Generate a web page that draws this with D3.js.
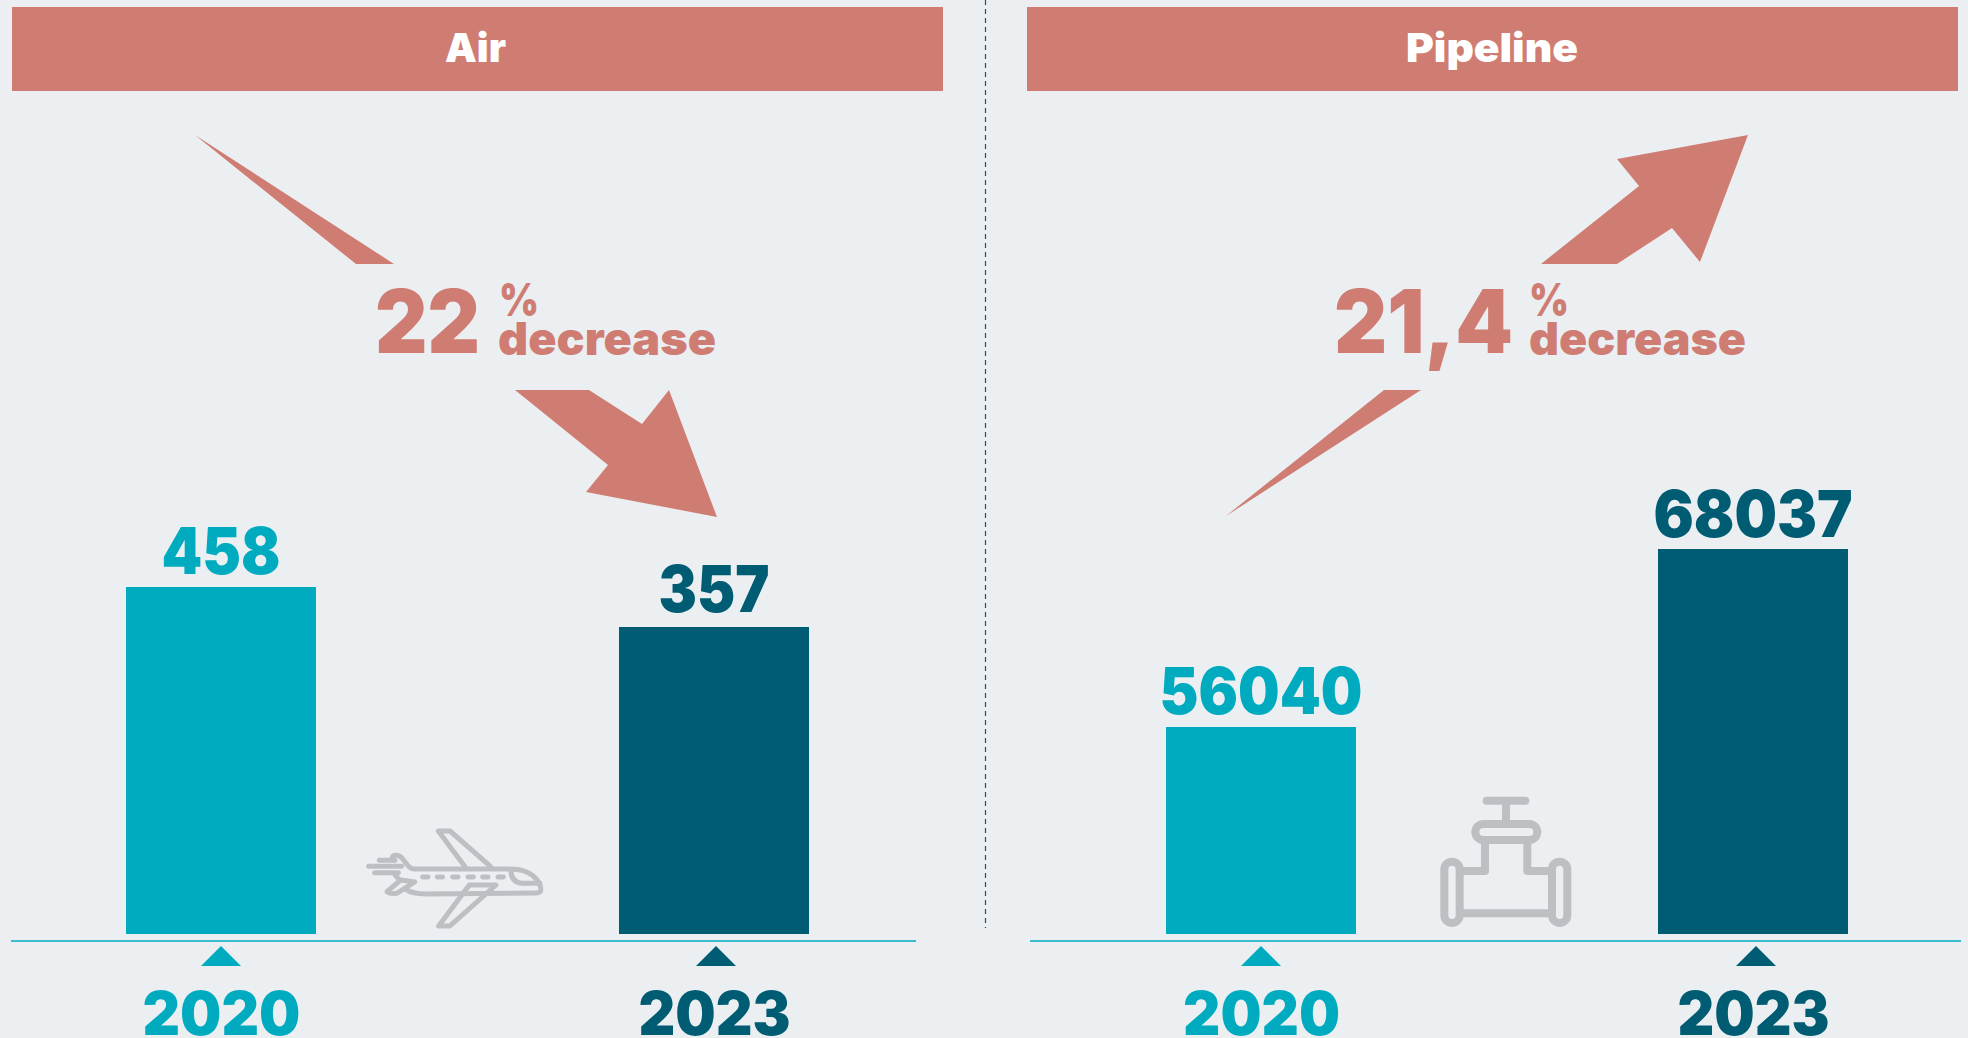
<!DOCTYPE html>
<html><head><meta charset="utf-8">
<script src="https://cdn.jsdelivr.net/npm/d3@7"></script>
<style>
html,body{margin:0;padding:0;background:#ebeff2;overflow:hidden}
svg{display:block}
text{font-family:Inter,"Noto Sans",sans-serif;font-weight:900}
</style></head><body><div id="c"></div>
<script>
// ---- data ----
const years = ["2020","2023"];
const panelNames = ["Air","Pipeline"];
const airValues = [458,357];
const pipelineValues = [56040,68037];
// the picture's bars do not start at zero: value at which each panel's bars meet the baseline
const airBaseValue = -418;
const pipelineBaseValue = 42089;
const changeNumbers = ["22","21,4"];
const changeWord = "decrease";

// ---- layout ----
const W=1968,H=1038,baseY=934,barW=190;
const SALMON="#cf7d73",TEAL="#00abc0",DARK="#005c73",GREY="#bdbfc3";
const colour=d3.scaleOrdinal(years,[TEAL,DARK]);
const svg=d3.select("#c").append("svg").attr("width",W).attr("height",H);
svg.append("rect").attr("width",W).attr("height",H).attr("fill","#ebeff2");
svg.append("line").attr("x1",985.5).attr("x2",985.5).attr("y1",0).attr("y2",928)
  .attr("stroke",DARK).attr("stroke-width",1.2).attr("stroke-dasharray","5 4");

const panels=[
 {name:panelNames[0],values:airValues,base:airBaseValue,head:[12,943],nameBox:[445,61,62],
  xr:[221,714],triX:[221,716],line:[11,916],top:[[356,264],[394,264],[195,135]],
  valW:[119,111],valGap:[13,15],yearW:[158,152],num:changeNumbers[0],numBox:[375,105],pct:499,word:[498,218],
  bot:[[515,390],[589,390],[642,424],[669,390],[717,517],[586,492],[608,465]]},
 {name:panelNames[1],values:pipelineValues,base:pipelineBaseValue,head:[1027,1958],nameBox:[1406,172,62],
  xr:[1261,1753],triX:[1261,1756],line:[1030,1961],top:[[1541,264],[1617,264],[1672,228],[1700,262],[1748,135],[1617,159],[1639,186]],
  valW:[203,199],valGap:[13,12],yearW:[157,152],num:changeNumbers[1],numBox:[1334,179],pct:1529,word:[1529,217],
  bot:[[1384,390],[1421,390],[1226,516]]}
];
const tops=[[587,627],[727,549]];

panels.forEach((p,i)=>{
  const g=svg.append("g");
  g.append("rect").attr("x",p.head[0]).attr("y",7).attr("width",p.head[1]-p.head[0]).attr("height",84).attr("fill",SALMON);
  g.append("text").attr("x",p.nameBox[0]).attr("y",p.nameBox[2]).attr("fill","#fff").attr("font-size",40)
    .attr("textLength",p.nameBox[1]).attr("lengthAdjust","spacingAndGlyphs").text(p.name);
  const poly=d=>g.append("polygon").attr("points",d.join(" ")).attr("fill",SALMON);
  poly(p.top);poly(p.bot);
  g.append("text").attr("x",p.numBox[0]).attr("y",353).attr("fill",SALMON).attr("font-size",88)
    .attr("textLength",p.numBox[1]).attr("lengthAdjust","spacingAndGlyphs").text(p.num);
  g.append("text").attr("x",p.pct).attr("y",316).attr("fill",SALMON).attr("font-size",46)
    .attr("textLength",40).attr("lengthAdjust","spacingAndGlyphs").text("%");
  g.append("text").attr("x",p.word[0]).attr("y",355).attr("fill",SALMON).attr("font-size",46)
    .attr("textLength",p.word[1]).attr("lengthAdjust","spacingAndGlyphs").text(changeWord);

  const x=d3.scalePoint().domain(years).range(p.xr);
  const y=d3.scaleLinear().domain([p.base,p.values[1]]).range([baseY,tops[i][1]]);
  const rows=years.map((yr,j)=>({yr,v:p.values[j],j}));
  g.selectAll(".bar").data(rows).join("rect").attr("class","bar")
    .attr("x",d=>x(d.yr)-barW/2).attr("width",barW)
    .attr("y",d=>y(d.v)).attr("height",d=>baseY-y(d.v)).attr("fill",d=>colour(d.yr));
  g.selectAll(".val").data(rows).join("text").attr("class","val")
    .attr("x",d=>x(d.yr)).attr("y",d=>y(d.v)-p.valGap[d.j]).attr("text-anchor","middle")
    .attr("font-size",64).attr("fill",d=>colour(d.yr))
    .attr("textLength",d=>p.valW[d.j]).attr("lengthAdjust","spacingAndGlyphs").text(d=>d.v);
  g.append("line").attr("x1",p.line[0]).attr("x2",p.line[1]).attr("y1",941).attr("y2",941)
    .attr("stroke",TEAL).attr("stroke-width",1.6);
  g.selectAll(".tri").data(rows).join("path").attr("class","tri")
    .attr("d",d=>{const c=p.triX[d.j];return d3.line()([[c-20,966],[c,946],[c+20,966]])+"Z"}).attr("fill",d=>colour(d.yr));
  const ax=g.append("g").attr("transform","translate(0,941)").call(d3.axisBottom(x).tickSize(0).tickPadding(0));
  ax.select(".domain").remove();
  ax.selectAll("text").attr("dy",null).attr("y",94).attr("font-size",60)
    .style("font-family","Inter").style("font-weight",900)
    .attr("fill",d=>colour(d)).attr("textLength",(d,j)=>p.yearW[j]).attr("lengthAdjust","spacingAndGlyphs");
});

// icons
const plane=svg.append("g").attr("transform","translate(340,800) scale(0.3333)")
  .attr("fill","none").attr("stroke",GREY).attr("stroke-width",15).attr("stroke-linecap","round").attr("stroke-linejoin","round");
["M155 178 Q155 165 170 166 Q182 167 192 182 L205 198 Q212 207 225 207 L510 207 Q570 207 595 245 Q605 262 602 272 Q600 279 585 279 L260 282 Q215 282 197 268",
 "M165 224 L178 240",
 "M375 200 L295 93 L330 93 L452 200",
 "M388 255 L296 378 L330 378 L468 255 Z",
 "M182 240 L224 246 L170 280 Q150 282 141 275 Z",
 "M513 210 Q512 245 545 250 L600 250",
 "M86 199 L185 199","M118 181 L165 181","M104 218 L175 218"
].forEach(d=>plane.append("path").attr("d",d));
[256,300,346,392,436,482].forEach(c=>plane.append("line").attr("x1",c-8).attr("x2",c+8).attr("y1",231).attr("y2",231));

const pipe=svg.append("g").attr("transform","translate(1400,780) scale(0.3333)")
  .attr("fill","none").attr("stroke",GREY).attr("stroke-width",24).attr("stroke-linecap","round").attr("stroke-linejoin","round");
["M260 62 L376 62","M318 62 L318 130","M255 185 L255 273 L190 273","M382 185 L382 273 L445 273","M190 400 L445 400"]
 .forEach(d=>pipe.append("path").attr("d",d));
[[226,132,186,48,24],[133,245,46,184,23],[456,245,46,184,23]].forEach(r=>
  pipe.append("rect").attr("x",r[0]).attr("y",r[1]).attr("width",r[2]).attr("height",r[3]).attr("rx",r[4]));
</script></body></html>
